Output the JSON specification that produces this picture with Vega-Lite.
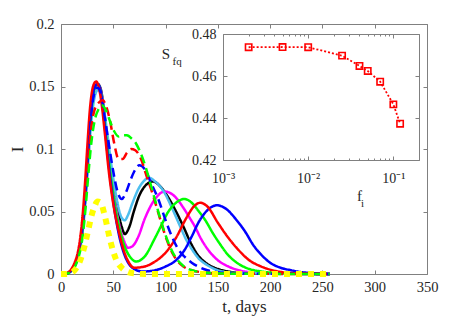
{
"$schema":"https://vega.github.io/schema/vega-lite/v6.json",
"width":366,"height":250,
"autosize":{"type":"none"},
"padding":{"left":61,"top":24,"right":44,"bottom":44},
"background":"#ffffff",
"config":{
 "view":{"stroke":null},
 "axis":{"domainColor":"#808080","tickColor":"#808080","labelColor":"#262626","titleColor":"#262626","labelFont":"Liberation Serif","titleFont":"Liberation Serif","titleFontWeight":"normal","grid":false,"domainWidth":1,"tickWidth":1,"labelFontSize":14.5,"titleFontSize":17}
},
"datasets":{
"inset":[
{"f":0.002,"S":0.4737},{"f":0.005,"S":0.4738},{"f":0.01,"S":0.4737},{"f":0.025,"S":0.4697},{"f":0.04,"S":0.4648},{"f":0.05,"S":0.4624},{"f":0.07,"S":0.4573},{"f":0.1,"S":0.4465},{"f":0.12,"S":0.4373}
],
"curves":[
{"s":"k","t":0,"v":0},{"s":"k","t":5,"v":0.0004},{"s":"k","t":10,"v":0.003},{"s":"k","t":14,"v":0.009},{"s":"k","t":17,"v":0.018},{"s":"k","t":20,"v":0.032},{"s":"k","t":22,"v":0.048},{"s":"k","t":24,"v":0.07},{"s":"k","t":26,"v":0.096},{"s":"k","t":29,"v":0.13},{"s":"k","t":32,"v":0.149},{"s":"k","t":35,"v":0.152},{"s":"k","t":38,"v":0.148},{"s":"k","t":41,"v":0.132},{"s":"k","t":44,"v":0.11},{"s":"k","t":47,"v":0.089},{"s":"k","t":51,"v":0.066},{"s":"k","t":55,"v":0.048},{"s":"k","t":58,"v":0.038},{"s":"k","t":61,"v":0.032},{"s":"k","t":65,"v":0.037},{"s":"k","t":70,"v":0.051},{"s":"k","t":75,"v":0.063},{"s":"k","t":80,"v":0.07},{"s":"k","t":88,"v":0.074},{"s":"k","t":95,"v":0.07},{"s":"k","t":102,"v":0.062},{"s":"k","t":110,"v":0.05},{"s":"k","t":117,"v":0.038},{"s":"k","t":124,"v":0.025},{"s":"k","t":131,"v":0.015},{"s":"k","t":140,"v":0.008},{"s":"k","t":150,"v":0.004},{"s":"k","t":160,"v":0.002},{"s":"k","t":175,"v":0.0008},{"s":"k","t":257,"v":0},
{"s":"m","t":0,"v":0},{"s":"m","t":5,"v":0.0004},{"s":"m","t":10,"v":0.003},{"s":"m","t":14,"v":0.009},{"s":"m","t":17,"v":0.018},{"s":"m","t":20,"v":0.032},{"s":"m","t":22,"v":0.048},{"s":"m","t":24,"v":0.07},{"s":"m","t":26,"v":0.096},{"s":"m","t":29,"v":0.13},{"s":"m","t":32,"v":0.149},{"s":"m","t":35,"v":0.152},{"s":"m","t":38,"v":0.147},{"s":"m","t":41,"v":0.13},{"s":"m","t":44,"v":0.107},{"s":"m","t":47,"v":0.085},{"s":"m","t":51,"v":0.061},{"s":"m","t":55,"v":0.042},{"s":"m","t":60,"v":0.027},{"s":"m","t":64,"v":0.021},{"s":"m","t":68,"v":0.022},{"s":"m","t":74,"v":0.03},{"s":"m","t":80,"v":0.044},{"s":"m","t":90,"v":0.06},{"s":"m","t":99,"v":0.066},{"s":"m","t":106,"v":0.064},{"s":"m","t":112,"v":0.059},{"s":"m","t":117,"v":0.053},{"s":"m","t":123,"v":0.045},{"s":"m","t":128,"v":0.038},{"s":"m","t":134,"v":0.028},{"s":"m","t":141,"v":0.019},{"s":"m","t":150,"v":0.011},{"s":"m","t":160,"v":0.006},{"s":"m","t":170,"v":0.003},{"s":"m","t":180,"v":0.0015},{"s":"m","t":200,"v":0.0005},{"s":"m","t":257,"v":0},
{"s":"c","t":0,"v":0},{"s":"c","t":5,"v":0.0003},{"s":"c","t":10,"v":0.0025},{"s":"c","t":14,"v":0.008},{"s":"c","t":17,"v":0.016},{"s":"c","t":20,"v":0.029},{"s":"c","t":22,"v":0.044},{"s":"c","t":24,"v":0.064},{"s":"c","t":26,"v":0.088},{"s":"c","t":29,"v":0.122},{"s":"c","t":32,"v":0.141},{"s":"c","t":35,"v":0.147},{"s":"c","t":38,"v":0.145},{"s":"c","t":41,"v":0.132},{"s":"c","t":44,"v":0.114},{"s":"c","t":48,"v":0.088},{"s":"c","t":52,"v":0.066},{"s":"c","t":55,"v":0.053},{"s":"c","t":58,"v":0.045},{"s":"c","t":61,"v":0.043},{"s":"c","t":64,"v":0.047},{"s":"c","t":68,"v":0.056},{"s":"c","t":74,"v":0.068},{"s":"c","t":80,"v":0.075},{"s":"c","t":84,"v":0.077},{"s":"c","t":90,"v":0.074},{"s":"c","t":99,"v":0.065},{"s":"c","t":106,"v":0.053},{"s":"c","t":114,"v":0.038},{"s":"c","t":120,"v":0.027},{"s":"c","t":125,"v":0.02},{"s":"c","t":131,"v":0.013},{"s":"c","t":140,"v":0.007},{"s":"c","t":150,"v":0.003},{"s":"c","t":165,"v":0.001},{"s":"c","t":257,"v":0},
{"s":"g","t":0,"v":0},{"s":"g","t":5,"v":0.0004},{"s":"g","t":10,"v":0.003},{"s":"g","t":14,"v":0.009},{"s":"g","t":17,"v":0.018},{"s":"g","t":20,"v":0.032},{"s":"g","t":22,"v":0.048},{"s":"g","t":24,"v":0.07},{"s":"g","t":26,"v":0.096},{"s":"g","t":29,"v":0.13},{"s":"g","t":32,"v":0.148},{"s":"g","t":35,"v":0.152},{"s":"g","t":38,"v":0.146},{"s":"g","t":41,"v":0.127},{"s":"g","t":44,"v":0.104},{"s":"g","t":47,"v":0.082},{"s":"g","t":51,"v":0.058},{"s":"g","t":55,"v":0.04},{"s":"g","t":60,"v":0.024},{"s":"g","t":65,"v":0.015},{"s":"g","t":72,"v":0.01},{"s":"g","t":80,"v":0.014},{"s":"g","t":90,"v":0.029},{"s":"g","t":96,"v":0.039},{"s":"g","t":102,"v":0.049},{"s":"g","t":110,"v":0.057},{"s":"g","t":118,"v":0.06},{"s":"g","t":125,"v":0.057},{"s":"g","t":131,"v":0.051},{"s":"g","t":138,"v":0.043},{"s":"g","t":145,"v":0.033},{"s":"g","t":152,"v":0.024},{"s":"g","t":160,"v":0.015},{"s":"g","t":170,"v":0.008},{"s":"g","t":180,"v":0.004},{"s":"g","t":192,"v":0.002},{"s":"g","t":210,"v":0.0007},{"s":"g","t":257,"v":0},
{"s":"b","t":0,"v":0},{"s":"b","t":5,"v":0.0004},{"s":"b","t":10,"v":0.003},{"s":"b","t":14,"v":0.009},{"s":"b","t":17,"v":0.018},{"s":"b","t":20,"v":0.033},{"s":"b","t":22,"v":0.05},{"s":"b","t":24,"v":0.072},{"s":"b","t":26,"v":0.098},{"s":"b","t":29,"v":0.132},{"s":"b","t":32,"v":0.149},{"s":"b","t":35,"v":0.152},{"s":"b","t":38,"v":0.146},{"s":"b","t":41,"v":0.125},{"s":"b","t":44,"v":0.1},{"s":"b","t":47,"v":0.077},{"s":"b","t":51,"v":0.052},{"s":"b","t":55,"v":0.033},{"s":"b","t":60,"v":0.017},{"s":"b","t":65,"v":0.008},{"s":"b","t":70,"v":0.004},{"s":"b","t":78,"v":0.002},{"s":"b","t":90,"v":0.003},{"s":"b","t":100,"v":0.006},{"s":"b","t":110,"v":0.011},{"s":"b","t":118,"v":0.019},{"s":"b","t":125,"v":0.03},{"s":"b","t":132,"v":0.042},{"s":"b","t":140,"v":0.051},{"s":"b","t":149,"v":0.055},{"s":"b","t":158,"v":0.052},{"s":"b","t":168,"v":0.043},{"s":"b","t":176,"v":0.034},{"s":"b","t":184,"v":0.023},{"s":"b","t":192,"v":0.015},{"s":"b","t":200,"v":0.009},{"s":"b","t":210,"v":0.005},{"s":"b","t":220,"v":0.003},{"s":"b","t":230,"v":0.0015},{"s":"b","t":245,"v":0.0005},{"s":"b","t":257,"v":0},
{"s":"r","t":0,"v":0},{"s":"r","t":5,"v":0.0005},{"s":"r","t":9,"v":0.003},{"s":"r","t":13,"v":0.009},{"s":"r","t":16,"v":0.017},{"s":"r","t":19,"v":0.033},{"s":"r","t":21,"v":0.05},{"s":"r","t":23,"v":0.073},{"s":"r","t":25,"v":0.1},{"s":"r","t":28,"v":0.135},{"s":"r","t":31,"v":0.151},{"s":"r","t":33.5,"v":0.154},{"s":"r","t":36,"v":0.15},{"s":"r","t":39,"v":0.135},{"s":"r","t":42,"v":0.112},{"s":"r","t":46,"v":0.08},{"s":"r","t":50,"v":0.056},{"s":"r","t":55,"v":0.035},{"s":"r","t":60,"v":0.019},{"s":"r","t":65,"v":0.009},{"s":"r","t":70,"v":0.005},{"s":"r","t":80,"v":0.006},{"s":"r","t":90,"v":0.01},{"s":"r","t":100,"v":0.017},{"s":"r","t":110,"v":0.029},{"s":"r","t":120,"v":0.045},{"s":"r","t":127,"v":0.054},{"s":"r","t":133,"v":0.057},{"s":"r","t":140,"v":0.054},{"s":"r","t":150,"v":0.041},{"s":"r","t":160,"v":0.029},{"s":"r","t":170,"v":0.019},{"s":"r","t":180,"v":0.011},{"s":"r","t":190,"v":0.0065},{"s":"r","t":200,"v":0.0035},{"s":"r","t":210,"v":0.0017},{"s":"r","t":225,"v":0.0006},{"s":"r","t":257,"v":0},
{"s":"bd","t":0,"v":0},{"s":"bd","t":5,"v":0.0003},{"s":"bd","t":10,"v":0.0025},{"s":"bd","t":14,"v":0.008},{"s":"bd","t":17,"v":0.017},{"s":"bd","t":20,"v":0.03},{"s":"bd","t":22,"v":0.045},{"s":"bd","t":24,"v":0.066},{"s":"bd","t":26,"v":0.092},{"s":"bd","t":29,"v":0.128},{"s":"bd","t":32,"v":0.145},{"s":"bd","t":35,"v":0.149},{"s":"bd","t":38,"v":0.145},{"s":"bd","t":41,"v":0.13},{"s":"bd","t":45,"v":0.108},{"s":"bd","t":50,"v":0.082},{"s":"bd","t":54,"v":0.066},{"s":"bd","t":58,"v":0.06},{"s":"bd","t":62,"v":0.065},{"s":"bd","t":66,"v":0.074},{"s":"bd","t":70,"v":0.082},{"s":"bd","t":75,"v":0.087},{"s":"bd","t":80,"v":0.084},{"s":"bd","t":86,"v":0.073},{"s":"bd","t":93,"v":0.06},{"s":"bd","t":100,"v":0.043},{"s":"bd","t":106,"v":0.03},{"s":"bd","t":112,"v":0.02},{"s":"bd","t":118,"v":0.014},{"s":"bd","t":125,"v":0.009},{"s":"bd","t":131,"v":0.006},{"s":"bd","t":140,"v":0.003},{"s":"bd","t":150,"v":0.0015},{"s":"bd","t":165,"v":0.0005},{"s":"bd","t":257,"v":0},
{"s":"rd","t":0,"v":0},{"s":"rd","t":5,"v":0.0004},{"s":"rd","t":10,"v":0.003},{"s":"rd","t":14,"v":0.009},{"s":"rd","t":17,"v":0.018},{"s":"rd","t":20,"v":0.032},{"s":"rd","t":23,"v":0.06},{"s":"rd","t":26,"v":0.093},{"s":"rd","t":29,"v":0.118},{"s":"rd","t":32,"v":0.131},{"s":"rd","t":36,"v":0.137},{"s":"rd","t":40,"v":0.139},{"s":"rd","t":44,"v":0.132},{"s":"rd","t":47,"v":0.122},{"s":"rd","t":51,"v":0.104},{"s":"rd","t":55,"v":0.092},{"s":"rd","t":59,"v":0.092},{"s":"rd","t":63,"v":0.097},{"s":"rd","t":67,"v":0.1},{"s":"rd","t":71,"v":0.099},{"s":"rd","t":76,"v":0.093},{"s":"rd","t":82,"v":0.078},{"s":"rd","t":88,"v":0.063},{"s":"rd","t":93,"v":0.049},{"s":"rd","t":100,"v":0.03},{"s":"rd","t":107,"v":0.016},{"s":"rd","t":117,"v":0.006},{"s":"rd","t":125,"v":0.003},{"s":"rd","t":140,"v":0.001},{"s":"rd","t":160,"v":0.0003},{"s":"rd","t":257,"v":0},
{"s":"gd","t":0,"v":0},{"s":"gd","t":5,"v":0.0003},{"s":"gd","t":10,"v":0.002},{"s":"gd","t":14,"v":0.007},{"s":"gd","t":17,"v":0.014},{"s":"gd","t":20,"v":0.026},{"s":"gd","t":23,"v":0.048},{"s":"gd","t":26,"v":0.078},{"s":"gd","t":29,"v":0.105},{"s":"gd","t":32,"v":0.122},{"s":"gd","t":36,"v":0.132},{"s":"gd","t":39,"v":0.135},{"s":"gd","t":43,"v":0.131},{"s":"gd","t":47,"v":0.122},{"s":"gd","t":51,"v":0.114},{"s":"gd","t":55,"v":0.11},{"s":"gd","t":59,"v":0.111},{"s":"gd","t":63,"v":0.111},{"s":"gd","t":68,"v":0.108},{"s":"gd","t":72,"v":0.104},{"s":"gd","t":76,"v":0.097},{"s":"gd","t":80,"v":0.088},{"s":"gd","t":86,"v":0.071},{"s":"gd","t":93,"v":0.05},{"s":"gd","t":100,"v":0.031},{"s":"gd","t":107,"v":0.017},{"s":"gd","t":117,"v":0.0065},{"s":"gd","t":125,"v":0.003},{"s":"gd","t":140,"v":0.001},{"s":"gd","t":160,"v":0.0003},{"s":"gd","t":257,"v":0},
{"s":"y","t":0,"v":0},{"s":"y","t":5,"v":0},{"s":"y","t":10,"v":0.001},{"s":"y","t":13,"v":0.003},{"s":"y","t":18,"v":0.01},{"s":"y","t":23,"v":0.024},{"s":"y","t":26,"v":0.035},{"s":"y","t":29,"v":0.046},{"s":"y","t":32,"v":0.054},{"s":"y","t":35,"v":0.058},{"s":"y","t":38,"v":0.057},{"s":"y","t":42,"v":0.046},{"s":"y","t":47,"v":0.027},{"s":"y","t":53,"v":0.011},{"s":"y","t":58,"v":0.005},{"s":"y","t":63,"v":0.002},{"s":"y","t":70,"v":0.0005},{"s":"y","t":80,"v":0},{"s":"y","t":257,"v":0}
]
},
"resolve":{"scale":{"x":"independent","y":"independent"},"axis":{"x":"independent","y":"independent"}},
"layer":[
{"data":{"name":"curves"},
 "mark":{"type":"line","interpolate":"monotone"},
 "encoding":{
  "x":{"field":"t","type":"quantitative","scale":{"domain":[0,350],"nice":false,"zero":false},
   "axis":{"orient":"bottom","values":[0,50,100,150,200,250,300,350],"tickSize":-4,"labelPadding":10,"title":"t, days","titleY":37,"titleBaseline":"alphabetic","labelFlush":false,"labelOverlap":false}},
  "y":{"field":"v","type":"quantitative","scale":{"domain":[0,0.2],"nice":false,"zero":false},
   "axis":{"orient":"left","values":[0,0.05,0.1,0.15,0.2],"format":"~g","tickSize":-4,"labelPadding":11,"title":"I","titleX":-39,"titleY":125,"titleAngle":270,"titleBaseline":"alphabetic","titleAlign":"center","labelFlush":false,"labelOverlap":false}},
  "color":{"field":"s","type":"nominal","scale":{"domain":["k","m","c","g","b","r","bd","rd","gd","y"],"range":["#000000","#ff00ff","#4dbeee","#00ff00","#0000ff","#ff0000","#0000ff","#ff0000","#00ff00","#ffff00"]},"legend":null},
  "strokeDash":{"field":"s","type":"nominal","scale":{"domain":["k","m","c","g","b","r","bd","rd","gd","y"],"range":[[1,0],[1,0],[1,0],[1,0],[1,0],[1,0],[9,5],[9,5],[9,5],[6,6]]},"legend":null},
  "strokeWidth":{"field":"s","type":"nominal","scale":{"type":"ordinal","domain":["k","m","c","g","b","r","bd","rd","gd","y"],"range":[2.5,2.5,2.5,2.5,2.5,2.5,2.5,2.5,2.5,6]},"legend":null}
 }
},
{"data":{"name":"inset"},
 "mark":{"type":"line","opacity":0},
 "encoding":{
  "x":{"field":"f","type":"quantitative","scale":{"domain":[0,350],"nice":false,"zero":false},
   "axis":{"orient":"top","values":[0,50,100,150,200,250,300,350],"tickSize":-4,"labels":false,"title":null}},
  "y":{"field":"S","type":"quantitative","scale":{"domain":[0,0.2],"nice":false,"zero":false},
   "axis":{"orient":"right","values":[0,0.05,0.1,0.15,0.2],"tickSize":-4,"labels":false,"title":null}}
 }
},
{"data":{"name":"inset"},
 "mark":{"type":"line","color":"#ff0000","strokeDash":[2,2],"strokeWidth":1.8,"point":{"shape":"square","filled":false,"size":40,"strokeWidth":1.6,"color":"#ff0000"}},
 "encoding":{
  "x":{"field":"f","type":"quantitative","scale":{"type":"log","domain":[0.001,0.2],"range":[162,358],"nice":false},
   "axis":{"orient":"bottom","offset":-114,"values":[0.001,0.002,0.003,0.004,0.005,0.006,0.007,0.008,0.009,0.01,0.02,0.03,0.04,0.05,0.06,0.07,0.08,0.09,0.1,0.2],
    "tickSize":{"condition":{"test":"datum.value==0.001||datum.value==0.01||datum.value==0.1","value":-4},"value":-2},
    "labelExpr":"datum.value==0.001?'10⁻³':datum.value==0.01?'10⁻²':datum.value==0.1?'10⁻¹':''",
    "labelBaseline":"alphabetic","labelPadding":26,"labelFontSize":14,"labelFlush":false,"labelOverlap":false,
    "title":"f","titleX":298,"titleY":40,"titleAlign":"center","titleBaseline":"alphabetic","titleFontSize":15}},
  "y":{"field":"S","type":"quantitative","scale":{"domain":[0.42,0.48],"range":[136,10],"nice":false,"zero":false},
   "axis":{"orient":"left","offset":-162,"values":[0.42,0.44,0.46,0.48],"format":".2f","tickSize":-4,"labelPadding":11,"labelFontSize":14,"labelFlush":false,"labelOverlap":false,
    "title":"S","titleAngle":0,"titleX":-57.5,"titleY":34,"titleAlign":"center","titleBaseline":"alphabetic","titleFontSize":15}}
 }
},
{"data":{"name":"inset"},
 "mark":{"type":"line","opacity":0},
 "encoding":{
  "x":{"field":"f","type":"quantitative","scale":{"type":"log","domain":[0.001,0.2],"range":[162,358],"nice":false},
   "axis":{"orient":"top","offset":-10,"values":[0.001,0.002,0.003,0.004,0.005,0.006,0.007,0.008,0.009,0.01,0.02,0.03,0.04,0.05,0.06,0.07,0.08,0.09,0.1,0.2],
    "tickSize":{"condition":{"test":"datum.value==0.001||datum.value==0.01||datum.value==0.1","value":-4},"value":-2},
    "labels":false,"title":"i","titleX":301,"titleY":172,"titleAlign":"center","titleBaseline":"alphabetic","titleFontSize":11}},
  "y":{"field":"S","type":"quantitative","scale":{"domain":[0.42,0.48],"range":[136,10],"nice":false,"zero":false},
   "axis":{"orient":"right","offset":-8,"values":[0.42,0.44,0.46,0.48],"tickSize":-4,"labels":false,
    "title":"fq","titleAngle":0,"titleX":-247,"titleY":40,"titleAlign":"left","titleBaseline":"alphabetic","titleFontSize":11}}
 }
}
]
}
